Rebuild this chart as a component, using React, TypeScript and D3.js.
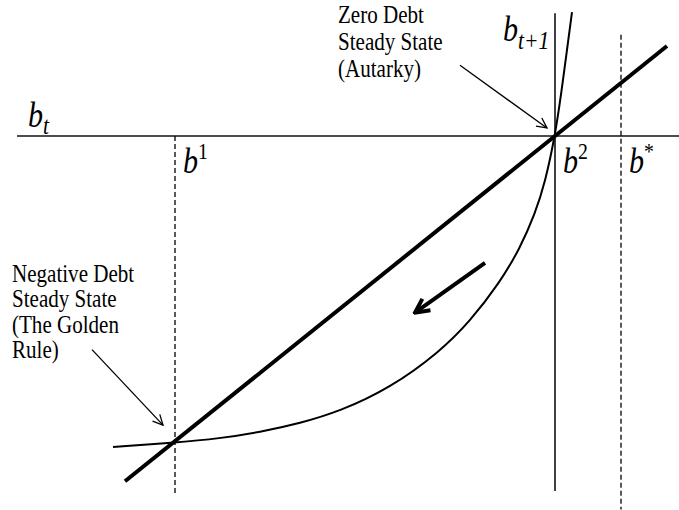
import { useEffect, useRef } from 'react';
import * as d3 from 'd3';

// b_t range of the horizontal axis and b_{t+1} range of the vertical axis
const hAxis = [-5.38, 1.24];
const vAxis = [-4.42, 1.53];

// 45 degree line b_{t+1} = b_t
const diagonal = [-4.3, 1.12];

// law of motion b_{t+1} = f(b_t)
const curveBt = [-4.42, -3.82, -3.35, -2.95, -2.55, -2.15, -1.65, -1.15, -0.85, -0.55, -0.35, -0.2, -0.1, 0, 0.06, 0.12, 0.17];
const curveBt1 = [-3.873, -3.82, -3.767, -3.687, -3.578, -3.428, -3.14, -2.685, -2.308, -1.822, -1.398, -0.969, -0.583, 0, 0.511, 1.071, 1.544];

// steady states and the dashed guides through them
const steadyNames = ['1', '2', '*'];
const steadyValues = [-3.8, 0, 0.66];
const dashTop = [0, null, 1.26];
const dashBottom = [-4.45, null, -4.65];

// direction of motion arrow
const motionFrom = [-0.7, -1.58];
const motionTo = [-1.4, -2.2];

// annotation texts and the points their arrows run between
const zeroNote = ['Zero Debt', 'Steady State', '(Autarky)'];
const zeroArrow = [[-0.95, 0.88], [-0.08, 0.1]];
const negNote = ['Negative Debt', 'Steady State', '(The Golden', 'Rule)'];
const negArrow = [[-4.63, -2.66], [-3.92, -3.6]];

const serif = '"Liberation Serif", "Times New Roman", serif';
const squeeze = 0.86;

const App = () => {
  const svgRef = useRef<SVGSVGElement | null>(null);

  useEffect(() => {
    const svg = d3.select(svgRef.current);
    svg.selectAll('*').remove();

    const x = d3.scaleLinear().domain([0, 1]).range([555, 655]);
    const y = d3.scaleLinear().domain([0, 1]).range([136, 55.7]);

    const defs = svg.append('defs');
    defs.append('marker')
      .attr('id', 'thin')
      .attr('viewBox', '0 0 12 12')
      .attr('refX', 11).attr('refY', 6)
      .attr('markerWidth', 12).attr('markerHeight', 12)
      .attr('markerUnits', 'userSpaceOnUse')
      .attr('orient', 'auto')
      .append('path')
      .attr('d', 'M1,1 L11,6 L1,11')
      .attr('fill', 'none')
      .attr('stroke', '#000')
      .attr('stroke-width', 1.3);
    defs.append('marker')
      .attr('id', 'thick')
      .attr('viewBox', '0 0 20 20')
      .attr('refX', 18).attr('refY', 10)
      .attr('markerWidth', 20).attr('markerHeight', 20)
      .attr('markerUnits', 'userSpaceOnUse')
      .attr('orient', 'auto')
      .append('path')
      .attr('d', 'M4,3 L18,10 L4,17')
      .attr('fill', 'none')
      .attr('stroke', '#000')
      .attr('stroke-width', 4);

    // axes
    svg.append('line')
      .attr('x1', x(hAxis[0])).attr('x2', x(hAxis[1]))
      .attr('y1', y(0)).attr('y2', y(0))
      .attr('stroke', '#111').attr('stroke-width', 1.6);
    svg.append('line')
      .attr('x1', x(0)).attr('x2', x(0))
      .attr('y1', y(vAxis[0])).attr('y2', y(vAxis[1]))
      .attr('stroke', '#111').attr('stroke-width', 1.6);

    // dashed guides
    steadyValues.forEach((v, i) => {
      if (dashTop[i] === null) return;
      svg.append('line')
        .attr('x1', x(v)).attr('x2', x(v))
        .attr('y1', y(dashTop[i] as number)).attr('y2', y(dashBottom[i] as number))
        .attr('stroke', '#000').attr('stroke-width', 1.3)
        .attr('stroke-dasharray', '5,3');
    });

    // law of motion
    const pts = curveBt.map((b, i) => [b, curveBt1[i]] as [number, number]);
    svg.append('path')
      .datum(pts)
      .attr('d', d3.line<[number, number]>().x(d => x(d[0])).y(d => y(d[1])).curve(d3.curveBasis))
      .attr('fill', 'none').attr('stroke', '#000').attr('stroke-width', 2);

    // 45 degree line
    svg.append('line')
      .attr('x1', x(diagonal[0])).attr('y1', y(diagonal[0]))
      .attr('x2', x(diagonal[1])).attr('y2', y(diagonal[1]))
      .attr('stroke', '#000').attr('stroke-width', 4);

    // motion arrow
    svg.append('line')
      .attr('x1', x(motionFrom[0])).attr('y1', y(motionFrom[1]))
      .attr('x2', x(motionTo[0])).attr('y2', y(motionTo[1]))
      .attr('stroke', '#000').attr('stroke-width', 4)
      .attr('marker-end', 'url(#thick)');

    // squeezed Times-like text, as in the scanned figure
    const label = (px: number, py: number, size: number, italic = false) =>
      svg.append('g')
        .attr('transform', `translate(${px},${py}) scale(${squeeze},1)`)
        .append('text')
        .attr('font-family', serif)
        .attr('font-style', italic ? 'italic' : 'normal')
        .attr('font-size', size);

    const note = (lines: string[], px: number, py: number, gap: number, arrow: number[][]) => {
      const t = label(px, py, 24.5);
      lines.forEach((l, i) => {
        t.append('tspan').attr('x', 0).attr('dy', i === 0 ? 0 : gap).text(l);
      });
      svg.append('line')
        .attr('x1', x(arrow[0][0])).attr('y1', y(arrow[0][1]))
        .attr('x2', x(arrow[1][0])).attr('y2', y(arrow[1][1]))
        .attr('stroke', '#000').attr('stroke-width', 1.3)
        .attr('marker-end', 'url(#thin)');
    };
    note(zeroNote, 338, 23, 27, zeroArrow);
    note(negNote, 12, 282, 25.5, negArrow);

    // axis labels
    const bt = label(28, 127, 35, true);
    bt.append('tspan').text('b');
    bt.append('tspan').attr('font-size', 25).attr('dy', 7).text('t');

    const bt1 = label(503, 41, 35, true);
    bt1.append('tspan').text('b');
    bt1.append('tspan').attr('font-size', 25).attr('dy', 8).text('t+1');

    // steady state labels
    steadyValues.forEach((v, i) => {
      const t = label(x(v) + 8, 173, 35, true);
      t.append('tspan').text('b');
      t.append('tspan').attr('font-size', 23).attr('font-style', 'normal').attr('dy', -14).text(steadyNames[i]);
    });
  }, []);

  return <svg ref={svgRef} width={679} height={510} style={{ position: 'absolute', left: 0, top: 0, background: '#fff' }} />;
};

export default App;
